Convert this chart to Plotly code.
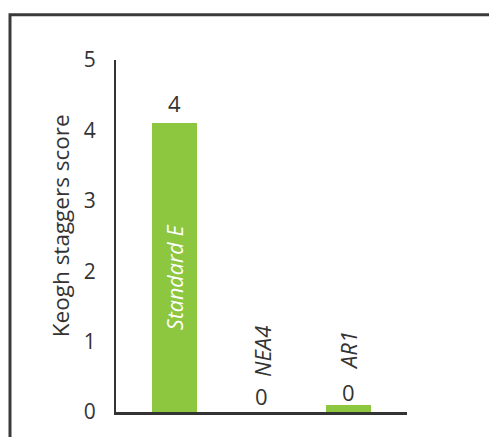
import plotly.graph_objects as go

# ---- data ----
categories = ["Standard E", "NEA4", "AR1"]
scores = [4.1, 0.0, 0.1]
score_labels = ["4", "0", "0"]
y_ticks = [0, 1, 2, 3, 4, 5]

# ---- style ----
GREEN = "#8dc63f"
DARK = "#333333"
FONT = "Open Sans"
W, H = 489, 437
L, R, T, B = 116, 82, 60, 19
label_shift = [20, 16, 13]   # px above bar top (value labels)
name_shift = 33              # px above bar top (rotated names)

fig = go.Figure()
fig.add_trace(go.Bar(
    x=categories, y=scores,
    marker=dict(color=GREEN, line=dict(width=0)),
    width=0.517, hoverinfo="skip",
))

annotations = []
for i, (c, v, lab) in enumerate(zip(categories, scores, score_labels)):
    annotations.append(dict(
        x=c, y=v, xref="x", yref="y", text=lab, showarrow=False,
        yanchor="middle", yshift=label_shift[i],
        font=dict(family=FONT, size=22, color=DARK),
    ))
    if v >= 1:
        annotations.append(dict(
            x=c, y=v / 2, xref="x", yref="y", text="<i>%s</i>" % c,
            showarrow=False, textangle=-90, yanchor="middle", yshift=-9,
            font=dict(family=FONT, size=21.5, color="white"),
        ))
    else:
        annotations.append(dict(
            x=c, y=v, xref="x", yref="y", text="<i>%s</i>" % c,
            showarrow=False, textangle=-90, yanchor="bottom", yshift=name_shift,
            font=dict(family=FONT, size=22, color=DARK),
        ))

pw = W - L - R
ph = H - T - B
annotations.append(dict(
    x=(60 - L) / pw, y=(H - B - 229) / ph, xref="paper", yref="paper",
    text="Keogh staggers score", textangle=-90, showarrow=False,
    xanchor="center", yanchor="middle",
    font=dict(family=FONT, size=22.5, color=DARK),
))

shapes = [
    # outer frame (extends past the right and bottom edges of the picture)
    dict(type="rect", xref="paper", yref="paper",
         x0=(10 - L) / pw, x1=(W + 20 - L) / pw,
         y0=(H - B - (H + 20)) / ph, y1=(H - B - 14) / ph,
         line=dict(color="#3a3a3a", width=3), fillcolor="rgba(0,0,0,0)"),
]

fig.update_layout(
    width=W, height=H,
    margin=dict(l=L, r=R, t=T, b=B, pad=0),
    paper_bgcolor="white", plot_bgcolor="white",
    showlegend=False, bargap=0,
    font=dict(family=FONT, color=DARK),
    annotations=annotations, shapes=shapes,
    xaxis=dict(range=[-0.672, 2.672], showticklabels=False, ticks="",
               showgrid=False, zeroline=False, showline=True,
               linecolor=DARK, linewidth=3, fixedrange=True),
    yaxis=dict(range=[0, 5], tickvals=y_ticks, ticks="",
               ticklabelstandoff=14, showgrid=False, zeroline=False,
               showline=True, linecolor=DARK, linewidth=2,
               tickfont=dict(family=FONT, size=21, color=DARK),
               fixedrange=True),
)

fig.write_html("out.html", config={"displayModeBar": False})
